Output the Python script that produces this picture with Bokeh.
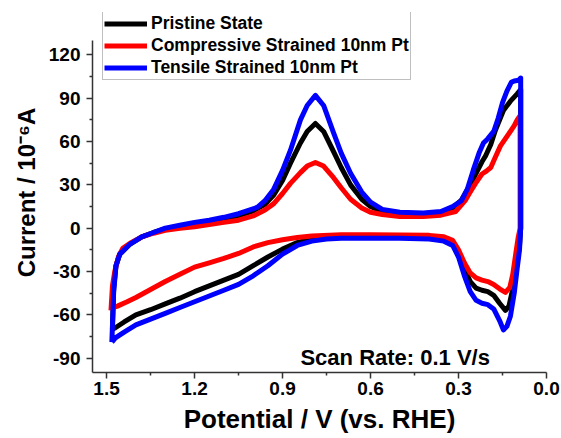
from bokeh.plotting import figure
from bokeh.models import Range1d, FixedTicker, PrintfTickFormatter, Label
from bokeh.embed import file_html
from bokeh.resources import INLINE

# ---------------- data ----------------
# Pristine State (black): closed CV loop, cathodic branch then anodic branch
pristine_v = [1.48, 1.47, 1.44, 1.40, 1.35, 1.30, 1.25, 1.20, 1.15, 1.10, 1.05, 1.00, 0.95, 0.90,
              0.85, 0.80, 0.75, 0.70, 0.60, 0.50, 0.40, 0.35, 0.32, 0.30, 0.28, 0.26, 0.24, 0.22,
              0.20, 0.18, 0.16, 0.14, 0.128, 0.115, 0.10, 0.092, 0.088,
              0.088, 0.088, 0.10, 0.123, 0.147, 0.174, 0.19, 0.208, 0.22, 0.235, 0.26, 0.29, 0.32,
              0.36, 0.42, 0.50, 0.56, 0.60, 0.63, 0.668, 0.70, 0.726, 0.76, 0.788, 0.816, 0.839,
              0.873, 0.90, 0.93, 0.96, 1.00, 1.05, 1.10, 1.15, 1.20, 1.25, 1.30, 1.34, 1.38, 1.42,
              1.455, 1.468, 1.476, 1.48]
pristine_i = [-70, -69, -65, -60, -56.5, -52.5, -48.5, -44, -40, -36, -32, -26, -20, -14.5,
              -10, -7.5, -6.5, -6, -6, -6, -6.5, -8, -11, -17, -28, -37, -41.5, -43,
              -44, -46.5, -52, -57, -54, -42, -24, -12, 0,
              40, 96, 93, 88, 81.5, 68, 58, 50, 46, 40, 30, 19.5, 14,
              11, 10, 10, 11.5, 15, 20, 30, 42, 53, 67, 72.5, 67, 59,
              45, 33, 23, 16.5, 12, 8.5, 6, 4.5, 3, 1.5, -0.5, -3, -6, -11,
              -18, -26, -42, -70]

# Compressive Strained 10nm Pt (red)
compressive_v = [1.485, 1.478, 1.463, 1.43, 1.40, 1.35, 1.30, 1.25, 1.20, 1.15, 1.10, 1.05, 1.00,
                 0.95, 0.90, 0.85, 0.80, 0.70, 0.60, 0.50, 0.40, 0.35, 0.32, 0.30, 0.28, 0.26,
                 0.24, 0.22, 0.20, 0.18, 0.16, 0.14, 0.125, 0.115, 0.105, 0.097, 0.09,
                 0.09, 0.09, 0.10, 0.11, 0.123, 0.14, 0.157, 0.175, 0.19, 0.205, 0.22, 0.242, 0.26,
                 0.276, 0.31, 0.36, 0.42, 0.50, 0.56, 0.60, 0.63, 0.668, 0.70, 0.726, 0.76, 0.788,
                 0.816, 0.839, 0.873, 0.90, 0.93, 0.96, 1.00, 1.05, 1.10, 1.15, 1.20, 1.25, 1.30,
                 1.34, 1.38, 1.42, 1.445, 1.46, 1.472, 1.48, 1.485]
compressive_i = [-57, -55, -54, -51, -48, -42.5, -37, -32, -27, -24, -21, -17.5, -13,
                 -10, -8, -6.5, -5.5, -4.5, -4.5, -4.8, -5, -6, -8.5, -15, -24, -31,
                 -34.5, -36, -37, -39, -42, -44.5, -41, -32, -18, -7, 0,
                 40, 78, 75, 71, 67, 62, 57, 49, 42, 39.5, 37.5, 31, 25,
                 19.5, 11.5, 9, 8, 8, 9.5, 11, 14, 20, 28, 35, 43, 45.5,
                 43, 38.5, 31, 24, 17, 12.5, 8.5, 5.5, 4, 2.5, 1, 0, -1.5,
                 -3.5, -6, -10.5, -14, -20, -30, -40, -57]

# Tensile Strained 10nm Pt (blue)
tensile_v = [1.482, 1.47, 1.44, 1.40, 1.35, 1.30, 1.25, 1.20, 1.15, 1.10, 1.05, 1.00, 0.95, 0.90,
             0.85, 0.80, 0.75, 0.70, 0.60, 0.50, 0.40, 0.35, 0.32, 0.30, 0.28, 0.26, 0.24, 0.22,
             0.20, 0.18, 0.16, 0.147, 0.135, 0.123, 0.11, 0.10, 0.092, 0.088,
             0.088, 0.088, 0.095, 0.11, 0.12, 0.135, 0.15, 0.165, 0.18, 0.20, 0.215, 0.23, 0.25,
             0.27, 0.29, 0.32, 0.36, 0.42, 0.50, 0.56, 0.60, 0.63, 0.668, 0.70, 0.726, 0.76, 0.788,
             0.816, 0.839, 0.873, 0.90, 0.93, 0.96, 0.985, 1.05, 1.10, 1.15, 1.20, 1.25, 1.30,
             1.34, 1.38, 1.42, 1.455, 1.468, 1.476, 1.482]
tensile_i = [-79, -76, -72, -67, -63, -59, -55, -51, -47, -43, -39, -33, -26, -18,
             -12, -9, -7.5, -7, -7, -7, -7.5, -9, -12, -20, -33, -44, -50, -52,
             -53, -56, -64, -70.5, -68, -61, -45, -28, -15, 0,
             40, 104, 102.5, 102, 101, 95, 87, 76, 67, 62, 59, 52, 40,
             27, 19, 15, 11.5, 10.5, 11, 13, 18, 25, 38, 52, 66, 85, 92,
             85, 75, 54, 40, 27, 19, 14.5, 10, 7.5, 5.5, 4, 2, 0,
             -3, -6, -11, -18, -26, -45, -79]

x_ticks = [0.0, 0.3, 0.6, 0.9, 1.2, 1.5]
x_minor = [0.15, 0.45, 0.75, 1.05, 1.35]
y_ticks = [-90, -60, -30, 0, 30, 60, 90, 120]
y_minor = [-75, -45, -15, 15, 45, 75, 105]

series_names = ["Pristine State", "Compressive Strained 10nm Pt", "Tensile Strained 10nm Pt"]
series_colors = ["#000000", "#ff0000", "#0000ff"]

FONT = "Liberation Sans"

p = figure(width=561, height=438, output_backend="svg", toolbar_location=None,
           x_range=Range1d(1.548, 0.0), y_range=Range1d(-100, 149.4),
           min_border_left=92, min_border_right=15, min_border_top=12, min_border_bottom=66)
p.outline_line_color = None
p.xgrid.visible = False
p.ygrid.visible = False
p.background_fill_color = "white"
p.border_fill_color = "white"

for v, i, name, col in zip([pristine_v, compressive_v, tensile_v],
                           [pristine_i, compressive_i, tensile_i],
                           series_names, series_colors):
    p.line(v, i, line_color=col, line_width=5, line_join="round", legend_label=name)

for ax, ticks, minor in ((p.xaxis[0], x_ticks, x_minor), (p.yaxis[0], y_ticks, y_minor)):
    ax.ticker = FixedTicker(ticks=ticks, minor_ticks=minor)
    ax.axis_line_color = "#333333"
    ax.axis_line_width = 1.5
    ax.major_tick_line_color = "#333333"
    ax.minor_tick_line_color = "#333333"
    ax.major_tick_line_width = 1.5
    ax.minor_tick_line_width = 1.5
    ax.major_tick_in = 0
    ax.major_tick_out = 6
    ax.minor_tick_in = 0
    ax.minor_tick_out = 3
    ax.major_label_text_font = FONT
    ax.major_label_text_font_style = "bold"
    ax.major_label_text_font_size = "19px"
    ax.major_label_text_color = "black"
    ax.axis_label_text_font = FONT
    ax.axis_label_text_font_style = "bold"
    ax.axis_label_text_color = "black"

p.yaxis[0].bounds = (-100, 130)

p.xaxis[0].formatter = PrintfTickFormatter(format="%.1f")
p.yaxis[0].formatter = PrintfTickFormatter(format="%d")
p.xaxis[0].major_label_standoff = 3
p.yaxis[0].major_label_standoff = 6

p.xaxis[0].axis_label = "Potential / V (vs. RHE)"
p.xaxis[0].axis_label_text_font_size = "26px"
p.xaxis[0].axis_label_standoff = 6
p.yaxis[0].axis_label = "Current / 10\u207b\u2076A"
p.yaxis[0].axis_label_text_font_size = "24px"
p.yaxis[0].axis_label_standoff = 6

p.add_layout(Label(x=0.839, y=-89.3, text="Scan Rate: 0.1 V/s", text_font=FONT,
                   text_font_style="bold", text_font_size="22px", text_align="left",
                   text_baseline="middle", text_color="black"))

lg = p.legend[0]
lg.location = (10, 292)
lg.label_text_font = FONT
lg.label_text_font_style = "bold"
lg.label_text_font_size = "17.5px"
lg.label_text_color = "black"
lg.glyph_width = 43
lg.glyph_height = 21
lg.label_height = 21
lg.label_standoff = 4
lg.spacing = 1
lg.padding = 1
lg.margin = 0
lg.border_line_color = "#808080"
lg.border_line_width = 1
lg.background_fill_color = "white"
lg.background_fill_alpha = 1.0

open("out.html", "w").write(file_html(p, INLINE))
